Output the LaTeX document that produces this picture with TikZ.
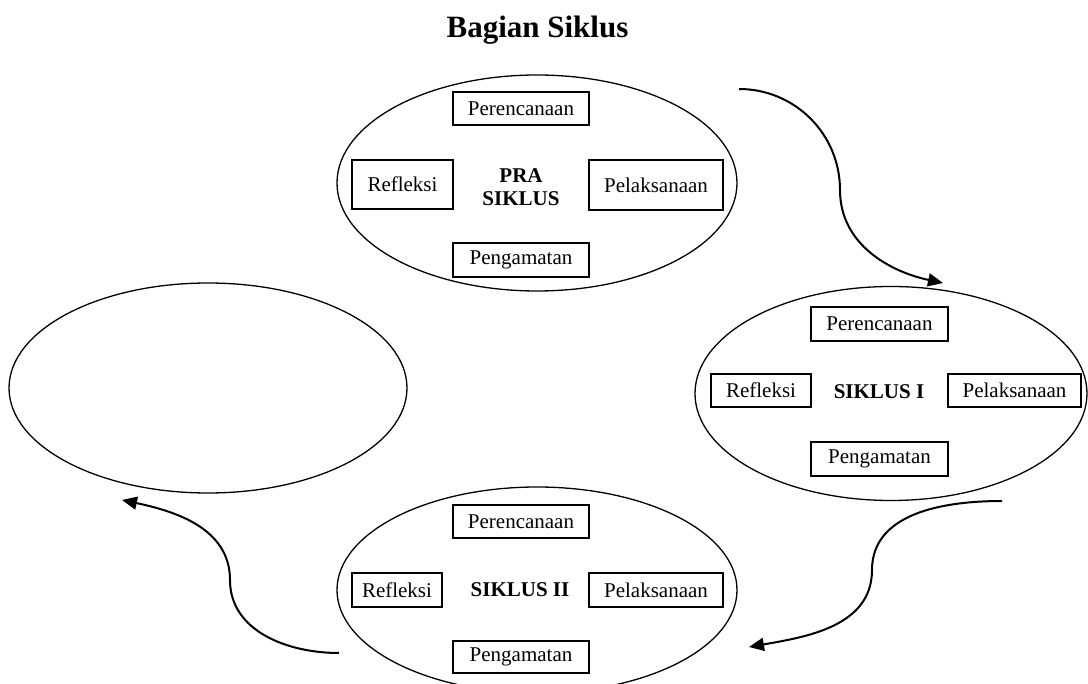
\documentclass[tikz,border=0pt]{standalone}
\usepackage{fontspec}
\setmainfont{Liberation Serif}
\usetikzlibrary{shapes.geometric,arrows.meta}
\newcommand\bxfont{\fontsize{21}{22.5}\selectfont}
\newcommand\ttlfont{\fontsize{31}{36}\selectfont\bfseries}
\tikzset{
  ring/.style={draw, ellipse, line width=1.3pt, inner sep=0pt},
  cbox/.style={draw, line width=1.8pt, inner sep=0pt, font=\bxfont},
  clabel/.style={font=\bxfont\bfseries, align=center, inner sep=0pt},
  flow/.style={line width=2pt, -{Triangle[length=15pt,width=13pt]}}
}
\begin{document}
\begin{tikzpicture}[x=1pt,y=-1pt]
\useasboundingbox (0,0) rectangle (1088,684);
\clip (0,0) rectangle (1088,684);
\fill[white] (0,0) rectangle (1088,684);
% title
\node[font=\ttlfont, anchor=base, inner sep=0pt] (title) at (537.5,38) {Bagian Siklus};
% PRA SIKLUS
\node[ring, minimum width=400pt, minimum height=216pt] (e0) at (537,183) {};
\node[cbox, minimum width=136pt, minimum height=33pt] (p0) at (521,108.5) {Perencanaan};
\node[cbox, minimum width=101pt, minimum height=49pt] (r0) at (402.5,184.5) {Refleksi};
\node[cbox, minimum width=134pt, minimum height=50pt] (l0) at (656,185) {Pelaksanaan};
\node[cbox, minimum width=136pt, minimum height=34pt] (g0) at (521,260) {Pengamatan};
\node[clabel] (t0) at (521,187) {PRA\\SIKLUS};
% SIKLUS I
\node[ring, minimum width=392pt, minimum height=214pt] (e1) at (891,393.5) {};
\node[cbox, minimum width=137pt, minimum height=34pt] (p1) at (879.5,324) {Perencanaan};
\node[cbox, minimum width=100pt, minimum height=33pt] (r1) at (761,390.5) {Refleksi};
\node[cbox, minimum width=133pt, minimum height=33pt] (l1) at (1014.5,390.5) {Pelaksanaan};
\node[cbox, minimum width=137pt, minimum height=34pt] (g1) at (879.5,459) {Pengamatan};
\node[clabel] (t1) at (879,392) {SIKLUS I};
% SIKLUS II
\node[ring, minimum width=400pt, minimum height=206pt] (e2) at (537,590) {};
\node[cbox, minimum width=136pt, minimum height=33pt] (p2) at (521,521.5) {Perencanaan};
\node[cbox, minimum width=90pt, minimum height=34pt] (r2) at (397,590) {Refleksi};
\node[cbox, minimum width=134pt, minimum height=34pt] (l2) at (656,590) {Pelaksanaan};
\node[cbox, minimum width=136pt, minimum height=32pt] (g2) at (521,657) {Pengamatan};
\node[clabel] (t2) at (520,590) {SIKLUS II};
% empty
\node[ring, minimum width=398pt, minimum height=210pt] (e3) at (208,388) {};
% arrows
\coordinate (a1s) at (739,89);
\coordinate (a1m) at (840,190);
\coordinate (a1e) at (943,283);
\coordinate (a2s) at (1002,501);
\coordinate (a2m) at (872,570);
\coordinate (a2e) at (749,647);
\coordinate (a3s) at (339,653);
\coordinate (a3m) at (230,580);
\coordinate (a3e) at (122,500);
\draw[flow] (a1s) to[out=0,in=90] (a1m) to[out=-90,in=168] (a1e);
\draw[flow] (a2s) to[out=180,in=90] (a2m) to[out=-90,in=10] (a2e);
\draw[flow] (a3s) to[out=180,in=-90] (a3m) to[out=90,in=-12] (a3e);
\end{tikzpicture}
\end{document}
